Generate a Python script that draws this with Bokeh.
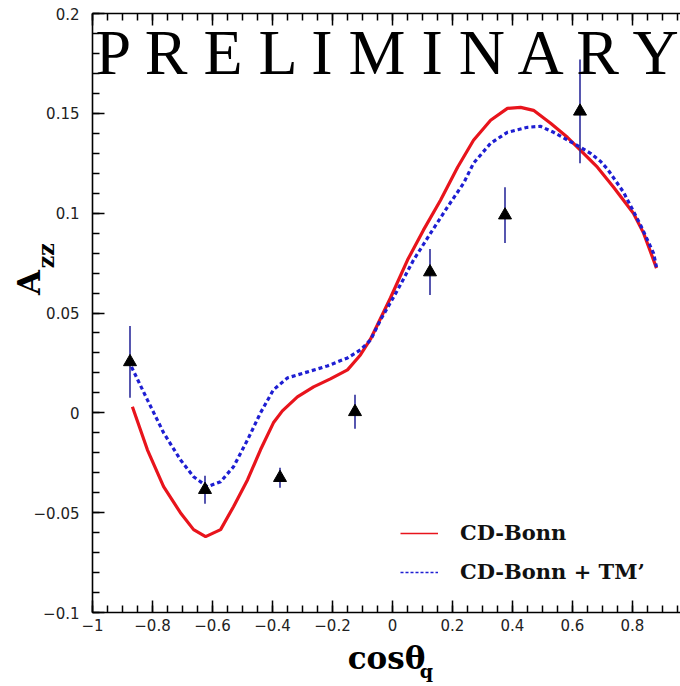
import math
from bokeh.plotting import figure
from bokeh.models import (Range1d, FixedTicker, LinearAxis, Label, Legend,
                          LegendItem, ColumnDataSource)
from bokeh.embed import file_html
from bokeh.resources import INLINE

# --- measured asymmetry A_zz vs cos(theta_q) ---
data_x = [-0.875, -0.625, -0.375, -0.125, 0.125, 0.375, 0.625]
data_y = [0.0255, -0.0385, -0.0325, 0.0005, 0.0705, 0.0990, 0.1510]
data_err = [0.0180, 0.0070, 0.0050, 0.0085, 0.0115, 0.0140, 0.0260]

# --- CD-Bonn prediction ---
bonn_x = [-0.867, -0.817, -0.763, -0.707, -0.663, -0.623, -0.573, -0.530,
          -0.483, -0.440, -0.397, -0.367, -0.317, -0.263, -0.207, -0.150,
          -0.107, -0.073, -0.007, 0.050, 0.103, 0.160, 0.217, 0.270, 0.327,
          0.383, 0.427, 0.470, 0.527, 0.583, 0.627, 0.683, 0.737, 0.803,
          0.837, 0.880]
bonn_y = [0.0030, -0.0185, -0.0370, -0.0500, -0.0585, -0.0620, -0.0585,
          -0.0470, -0.0335, -0.0185, -0.0050, 0.0010, 0.0080, 0.0130, 0.0170,
          0.0215, 0.0290, 0.0370, 0.0575, 0.0765, 0.0915, 0.1065, 0.1230,
          0.1365, 0.1465, 0.1525, 0.1530, 0.1515, 0.1450, 0.1380, 0.1315,
          0.1230, 0.1130, 0.1000, 0.0900, 0.0725]

# --- CD-Bonn + TM' prediction ---
tm_x = [-0.870, -0.817, -0.763, -0.707, -0.663, -0.617, -0.573, -0.530,
        -0.483, -0.440, -0.397, -0.350, -0.283, -0.217, -0.150, -0.107,
        -0.073, -0.040, 0.017, 0.070, 0.127, 0.183, 0.237, 0.270, 0.327,
        0.383, 0.450, 0.493, 0.537, 0.603, 0.660, 0.693, 0.717, 0.770,
        0.827, 0.870, 0.880]
tm_y = [0.0230, 0.0065, -0.0100, -0.0235, -0.0320, -0.0370, -0.0345,
        -0.0270, -0.0135, 0.0000, 0.0115, 0.0175, 0.0205, 0.0235, 0.0275,
        0.0315, 0.0365, 0.0465, 0.0615, 0.0765, 0.0900, 0.1030, 0.1150,
        0.1250, 0.1350, 0.1405, 0.1430, 0.1435, 0.1405, 0.1350, 0.1300,
        0.1260, 0.1220, 0.1105, 0.0940, 0.0800, 0.0730]

x_ticks = [-1.0, -0.8, -0.6, -0.4, -0.2, 0.0, 0.2, 0.4, 0.6, 0.8, 1.0]
x_tick_labels = ["\u22121", "\u22120.8", "\u22120.6", "\u22120.4", "\u22120.2",
                 "0", "0.2", "0.4", "0.6", "0.8", "1"]
y_ticks = [-0.1, -0.05, 0.0, 0.05, 0.1, 0.15, 0.2]
y_tick_labels = ["\u22120.1", "\u22120.05", "0", "0.05", "0.1", "0.15", "0.2"]

RED = "#e8141c"
BLUE = "#1e1ed2"
BAR = "#2c2c9c"

# wide spaces used to slide the axis titles along their axes
EM, EN, THIN = "\u2003", "\u2002", "\u2009"

p = figure(width=680, height=686, x_range=Range1d(-1.0, 0.96),
           y_range=Range1d(-0.1, 0.2), output_backend="svg",
           toolbar_location=None, min_border_left=92, min_border_right=0,
           min_border_top=13, min_border_bottom=74)
p.grid.visible = False
p.outline_line_color = None
p.background_fill_color = "white"
p.border_fill_color = "white"

x_minor = [round(-1.0 + 0.05 * i, 2) for i in range(41)]
y_minor = [round(-0.1 + 0.01 * i, 2) for i in range(31)]

TITLE_FONT = dict(axis_label_text_font="DejaVu Serif",
                  axis_label_text_font_style="bold",
                  axis_label_text_color="black")
NO_MARKS = dict(axis_line_color=None, major_tick_line_color=None,
                minor_tick_line_color=None, major_tick_in=0, major_tick_out=0,
                minor_tick_in=0, minor_tick_out=0)


def style_axis(ax, ticks, minor, labels):
    ax.ticker = FixedTicker(ticks=ticks, minor_ticks=minor)
    ax.axis_line_color = "black"
    ax.axis_line_width = 1.6
    ax.major_tick_line_color = "black"
    ax.major_tick_line_width = 1.5
    ax.minor_tick_line_color = "black"
    ax.minor_tick_line_width = 1.5
    ax.major_tick_in = 12
    ax.major_tick_out = 0
    ax.minor_tick_in = 7
    ax.minor_tick_out = 0
    ax.major_label_text_font = "DejaVu Sans"
    ax.major_label_text_font_size = "15px"
    ax.major_label_text_color = "#222222"
    ax.major_label_overrides = dict(zip(ticks, labels))


def title_axis(text, size, standoff):
    """A tickless axis that only carries a title text (used for subscripts)."""
    return LinearAxis(ticker=FixedTicker(ticks=[], minor_ticks=[]),
                      major_label_standoff=0, axis_label=text,
                      axis_label_text_font_size=size,
                      axis_label_standoff=standoff, **TITLE_FONT, **NO_MARKS)


xa = p.xaxis[0]
style_axis(xa, x_ticks, x_minor, x_tick_labels)
xa.major_label_standoff = 6
xa.axis_label = "cos\u03b8"
xa.axis_label_text_font_size = "31px"
xa.axis_label_standoff = 6
for k, v in TITLE_FONT.items():
    setattr(xa, k, v)

ya = p.yaxis[0]
style_axis(ya, y_ticks, y_minor, y_tick_labels)
ya.major_label_standoff = 13
ya.axis_label = EM + EN + THIN + THIN + "A"
ya.axis_label_text_font_size = "32px"
ya.axis_label_standoff = -17
for k, v in TITLE_FONT.items():
    setattr(ya, k, v)

# top frame edge with inward ticks, no labels
top = LinearAxis()
style_axis(top, x_ticks, x_minor, ["" for _ in x_ticks])
top.major_label_text_font_size = "1px"
top.major_label_standoff = 0
p.add_layout(top, "above")

# subscripts of the axis titles
p.add_layout(title_axis(EM * 4 + THIN + "q", "19px", -19), "below")
p.add_layout(title_axis(EM * 5 + THIN + "zz", "22px", -52), "left")

# model curves
p.line(bonn_x, bonn_y, line_color=RED, line_width=3.2)
p.line(tm_x, tm_y, line_color=BLUE, line_width=3.2, line_dash="4 3")

# data with error bars
src = ColumnDataSource(dict(x=data_x, y=data_y,
                            lo=[v - e for v, e in zip(data_y, data_err)],
                            hi=[v + e for v, e in zip(data_y, data_err)]))
p.segment(x0="x", y0="lo", x1="x", y1="hi", source=src,
          line_color=BAR, line_width=1.6)
p.scatter(x="x", y="y", source=src, marker="triangle", size=13,
          fill_color="black", line_color="black")

# legend entries with thin sample lines (no drawn points of their own)
nan = float("nan")
leg_red = p.line(x=[nan], y=[nan], line_color=RED, line_width=1.5)
leg_blue = p.line(x=[nan], y=[nan], line_color=BLUE, line_width=1.5,
                  line_dash="3 2")
legend = Legend(items=[LegendItem(label="CD-Bonn", renderers=[leg_red]),
                       LegendItem(label="CD-Bonn + TM\u2019",
                                  renderers=[leg_blue])],
                location=(308, 28), padding=0, margin=0,
                border_line_color=None, background_fill_alpha=0,
                glyph_width=38, glyph_height=20, label_standoff=22,
                spacing=14, label_text_font="DejaVu Serif",
                label_text_font_style="bold", label_text_font_size="21px",
                label_text_color="#111111")
p.add_layout(legend, "center")

# watermark
p.add_layout(Label(x=-0.99, y=0.1805, text="P R E L I M I N A R Y",
                   text_font="Liberation Serif", text_font_size="64px",
                   text_color="black", text_baseline="alphabetic"))

open("out.html", "w").write(file_html(p, INLINE))
